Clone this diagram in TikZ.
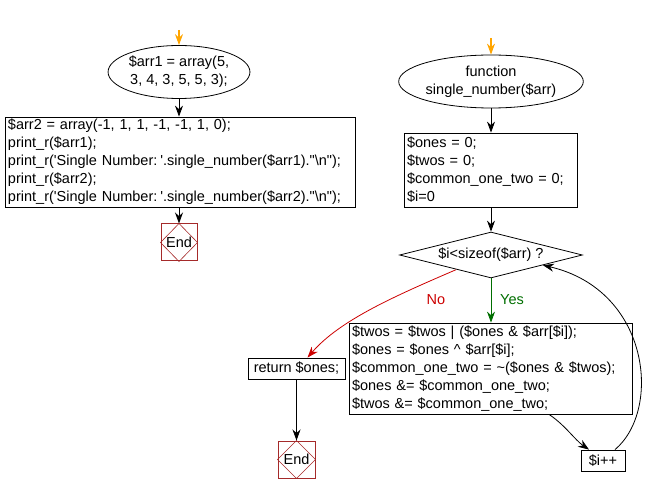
\documentclass[tikz,border=0pt]{standalone}
\usepackage{fontspec}
\setmainfont{Liberation Sans}
\usetikzlibrary{shapes.geometric,arrows.meta,calc}
\definecolor{startorange}{RGB}{255,165,0}
\definecolor{noRed}{RGB}{204,0,0}
\definecolor{yesGreen}{RGB}{0,110,0}
\definecolor{endBrown}{RGB}{165,42,42}
\newcommand\squote{\textquotesingle}
\newcommand\dquote{\textquotedbl}
\tikzset{
  base/.style={font=\fontsize{14.5}{18}\selectfont},
  ovalbox/.style={base,draw,ellipse,inner sep=0pt,align=center,line width=0.8pt},
  codebox/.style={base,draw,rectangle,inner xsep=3pt,inner ysep=0pt,align=left,line width=0.8pt},
  endbox/.style={base,draw=endBrown,rectangle,inner sep=0pt,minimum width=36pt,minimum height=37pt,line width=1pt},
  decision/.style={base,draw,diamond,aspect=4,inner sep=0pt,minimum width=183pt,minimum height=46pt,line width=0.8pt},
  conn/.style={line width=0.8pt,-{Stealth[length=11pt,width=8pt]}},
  startarrow/.style={draw=startorange,line width=1.2pt,-{Stealth[length=11pt,width=8pt]},color=startorange},
  lbl/.style={base,inner sep=0pt}
}
\newcommand\drawEndDiamond[1]{\draw[endBrown,line width=0.6pt] (#1.north)--(#1.east)--(#1.south)--(#1.west)--cycle;}
\begin{document}
\begin{tikzpicture}[x=1pt,y=-1pt]
\useasboundingbox (0,0) rectangle (648,494);
% left column
\coordinate (s1) at (179,30);
\node[ovalbox,minimum width=128pt,minimum height=53pt] (e1) at (179,72) {\$arr1 = array(5,\\3, 4, 3, 5, 5, 3);};
\node[codebox,minimum height=90pt,text width=344pt] (b2) at (180,162) {\$arr2 = array(-1, 1, 1, -1, -1, 1, 0);\\print\_r(\$arr1);\\print\_r(\squote Single Number:\hspace{0.2em}\squote.single\_number(\$arr1).\dquote\textbackslash n\dquote);\\print\_r(\$arr2);\\print\_r(\squote Single Number:\hspace{0.2em}\squote.single\_number(\$arr2).\dquote\textbackslash n\dquote);};
\node[endbox] (end1) at (179,242.5) {End};
\drawEndDiamond{end1}
\draw[startarrow] (s1) -- (e1.north);
\draw[conn] (e1.south) -- (b2.north -| e1.south);
\draw[conn] (b2.south -| end1.north) -- (end1.north);
% right column
\coordinate (s2) at (491,38);
\node[ovalbox,minimum width=159pt,minimum height=53pt] (fn) at (491,81.5) {function\\single\_number(\$arr)};
\node[codebox,minimum height=74pt,text width=167pt] (init) at (490.5,170) {\$ones = 0;\\\$twos = 0;\\\$common\_one\_two = 0;\\\$i=0};
\node[decision] (d) at (491,255) {\$i<sizeof(\$arr) ?};
\node[codebox,minimum height=91pt,text width=277pt] (body) at (490.5,368.5) {\$twos = \$twos | (\$ones \& \$arr[\$i]);\\\$ones = \$ones \textasciicircum{} \$arr[\$i];\\\$common\_one\_two = \textasciitilde(\$ones \& \$twos);\\\$ones \&= \$common\_one\_two;\\\$twos \&= \$common\_one\_two;};
\node[codebox,minimum height=21pt,minimum width=97pt] (ret) at (296.5,368.5) {return \$ones;};
\node[endbox,minimum width=37pt] (end2) at (296.5,459.5) {End};
\drawEndDiamond{end2}
\node[codebox,minimum height=21pt,minimum width=44pt,inner xsep=2pt] (inc) at (603,460.5) {\$i++};
\draw[startarrow] (s2) -- (fn.north);
\draw[conn] (fn.south) -- (init.north -| fn.south);
\draw[conn] (init.south -| d.north) -- (d.north);
\draw[conn,yesGreen] (d.south) -- (body.north -| d.south);
\node[lbl,text=yesGreen] (yes) at (512,300) {Yes};
\draw[conn,noRed] ([xshift=11pt,yshift=-3pt]d.south west) .. controls (395,296) and (340,320) .. ([xshift=11pt]ret.north);
\node[lbl,text=noRed] (no) at (436,300) {No};
\draw[conn] ([xshift=58.5pt]body.south) .. controls (565,425) and (575,440) .. ([xshift=-14pt]inc.north);
\draw[conn] ([xshift=12pt]inc.north) .. controls (662,410) and (650,290) .. ([xshift=6pt,yshift=1.5pt]d.south east);
\draw[conn] (ret.south) -- (end2.north);
\end{tikzpicture}
\end{document}
